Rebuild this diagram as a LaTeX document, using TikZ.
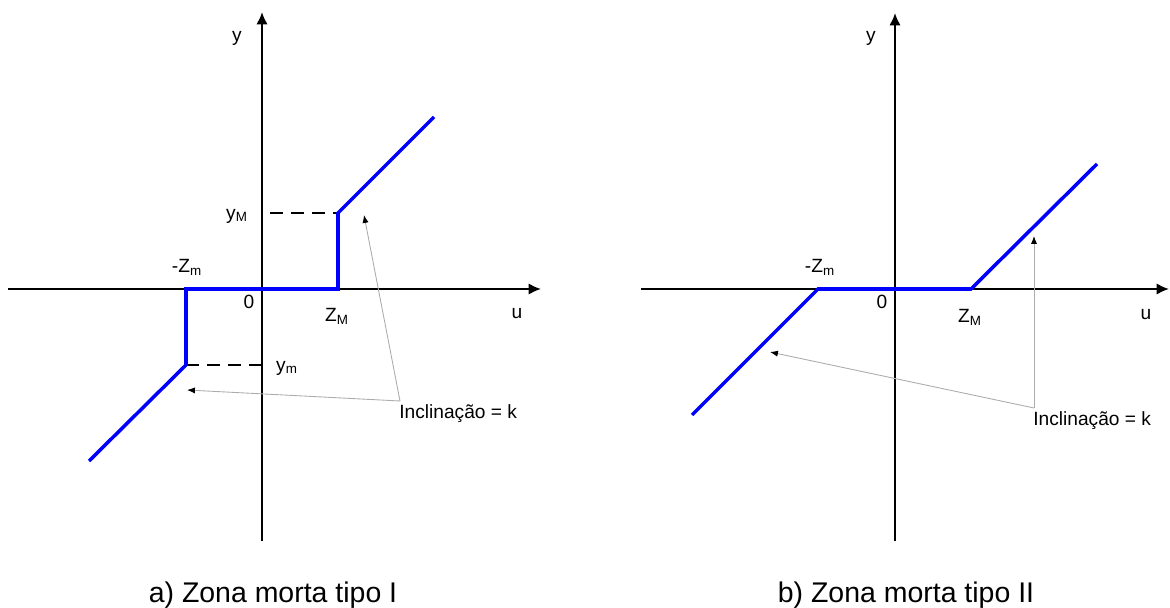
\documentclass[tikz,border=0pt]{standalone}
\usepackage{fontspec}
\setmainfont{Liberation Sans}
\usetikzlibrary{arrows.meta,positioning}

\begin{document}
\begin{tikzpicture}[x=0.02cm, y=-0.02cm, >=Latex]
        \tikzset{axis/.style={line width=1.3pt, -{Latex[length=7pt,width=6.5pt]}}, curve/.style={line width=2pt, blue}, guide/.style={line width=1.1pt, dash pattern=on 7.5pt off 4.5pt}, pointer/.style={gray!65, line width=0.5pt, -{Latex[length=4.5pt,width=3.5pt,color=black]}}, lbl/.style={inner sep=0pt, font=\fontsize{10.9}{13}\selectfont}, caption/.style={inner sep=0pt, anchor=base, font=\fontsize{16.2}{19}\selectfont}}
        \useasboundingbox (0,0) rectangle (1170,608);
        % a) tipo I
        \coordinate (o1) at (262,289);
        \coordinate (xs1) at (8,289);
        \coordinate (xe1) at (541,289);
        \coordinate (ys1) at (262,541);
        \coordinate (ye1) at (262,12);
        \coordinate (zn1) at (186,289);
        \coordinate (zp1) at (338,289);
        \coordinate (yp1) at (338,213);
        \coordinate (yn1) at (186,365);
        \coordinate (ep1) at (434,117);
        \coordinate (en1) at (89,461);
        \draw[axis] (xs1) -- (xe1);
        \draw[axis] (ys1) -- (ye1);
        \draw[guide] ([xshift=0.16cm]yp1 -| o1) -- (yp1);
        \draw[guide] (yn1) -- (yn1 -| o1);
        \draw[curve] (en1) -- (yn1) -- (zn1) -- (zp1) -- (yp1) -- (ep1);
        \node[lbl] (ylab1) at (237,38) {y};
        \node[lbl] (yMlab1) at (237,216) {y\textsubscript{M}};
        \node[lbl] (zmlab1) at (187,267) {-Z\textsubscript{m}};
        \node[lbl] (olab1) at (249,302) {0};
        \node[lbl] (zMlab1) at (337,316) {Z\textsubscript{M}};
        \node[lbl] (ulab1) at (517,314) {u};
        \node[lbl] (ymlab1) at (287,368) {y\textsubscript{m}};
        \node[lbl, anchor=west] (incl1) at (399,414) {Inclinação = k};
        \coordinate (j1) at (400,401);
        \coordinate (ta1) at (364,215);
        \coordinate (tb1) at (187,390);
        \draw[pointer] (j1) -- (ta1);
        \draw[pointer] (j1) -- (tb1);
        \node[caption] (cap1) at (273,602) {a) Zona morta tipo I};
        % b) tipo II
        \coordinate (o2) at (895,289);
        \coordinate (xs2) at (641,289);
        \coordinate (xe2) at (1169,289);
        \coordinate (ys2) at (895,541);
        \coordinate (ye2) at (895,13);
        \coordinate (zn2) at (818,289);
        \coordinate (zp2) at (971,289);
        \coordinate (ep2) at (1097,164);
        \coordinate (en2) at (692,415);
        \draw[axis] (xs2) -- (xe2);
        \draw[axis] (ys2) -- (ye2);
        \draw[curve] (en2) -- (zn2) -- (zp2) -- (ep2);
        \node[lbl] (ylab2) at (871,38) {y};
        \node[lbl] (zmlab2) at (820,267) {-Z\textsubscript{m}};
        \node[lbl] (olab2) at (882,302) {0};
        \node[lbl] (zMlab2) at (970,317) {Z\textsubscript{M}};
        \node[lbl] (ulab2) at (1146,315) {u};
        \node[lbl, anchor=west] (incl2) at (1033,421) {Inclinação = k};
        \coordinate (j2) at (1034,408);
        \coordinate (ta2) at (1034,236);
        \coordinate (tb2) at (770,352);
        \draw[pointer] (j2) -- (ta2);
        \draw[pointer] (j2) -- (tb2);
        \node[caption] (cap2) at (906,602) {b) Zona morta tipo II};
    \end{tikzpicture}
\end{document}
